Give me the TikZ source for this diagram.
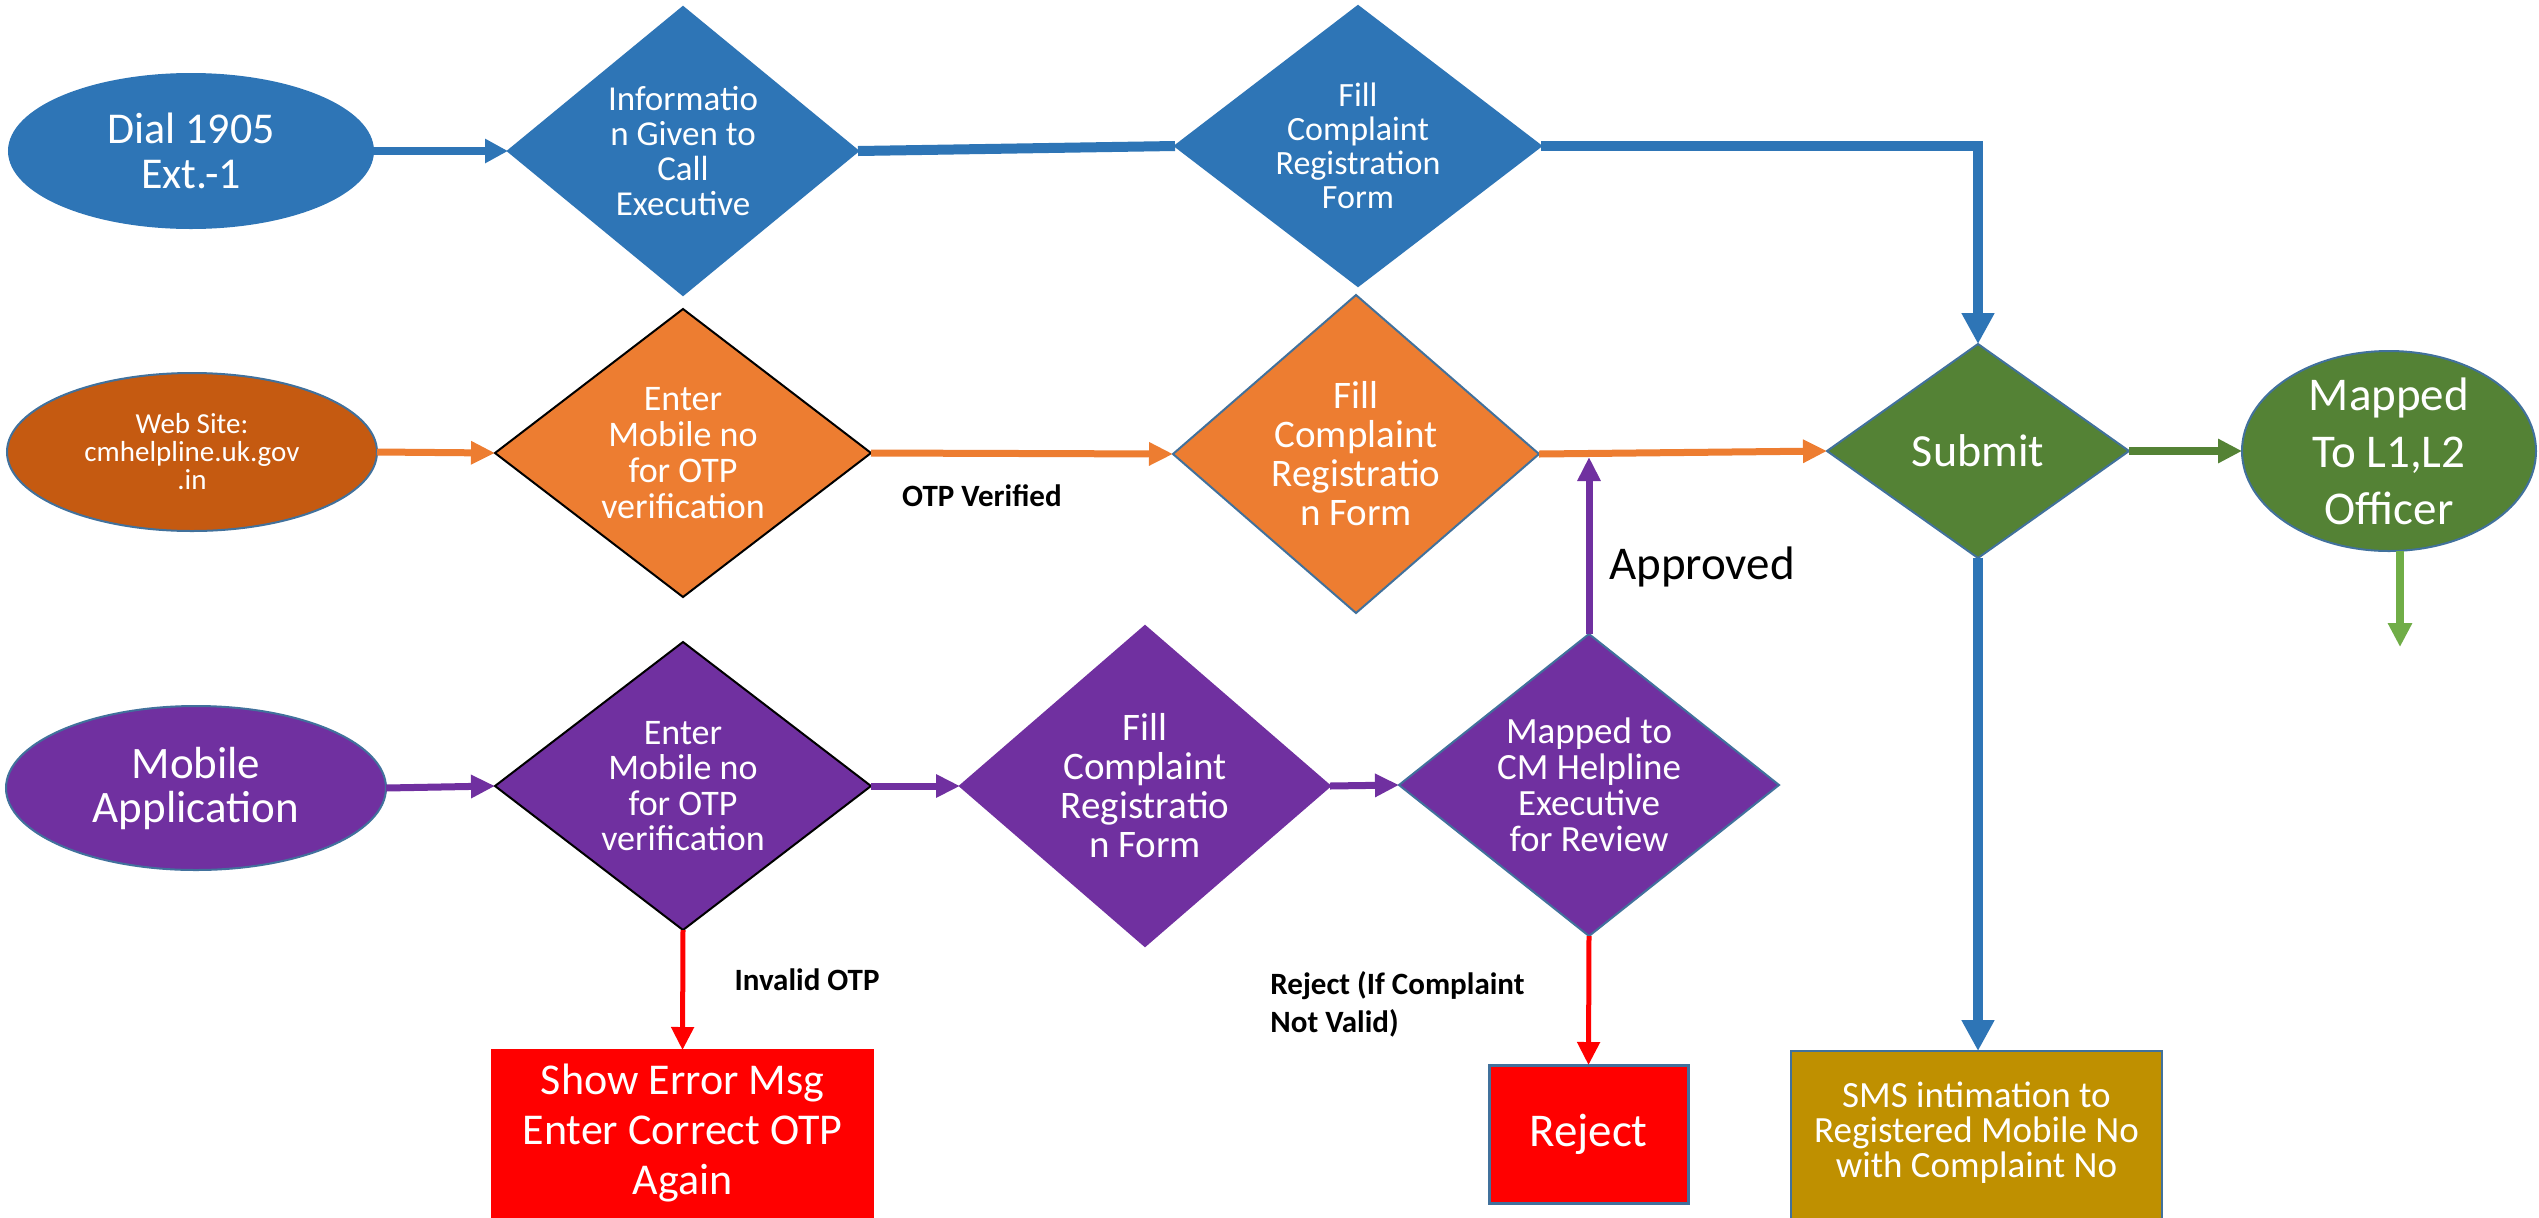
\documentclass[tikz,border=0pt]{standalone}
\usepackage{fontspec}
\setmainfont{Carlito}
\usetikzlibrary{shapes.geometric,arrows.meta}
\definecolor{cBlue}{HTML}{2E75B6}
\definecolor{cOut}{HTML}{41719C}
\definecolor{cOrange}{HTML}{ED7D31}
\definecolor{cRust}{HTML}{C55A11}
\definecolor{cPurple}{HTML}{7030A0}
\definecolor{cGreen}{HTML}{548235}
\definecolor{cLGreen}{HTML}{70AD47}
\definecolor{cRed}{HTML}{FF0000}
\definecolor{cGold}{HTML}{BF9000}
\newcommand{\myfs}[2]{\fontsize{#1}{#2}\selectfont}
\begin{document}
\begin{tikzpicture}[x=0.5pt,y=-0.5pt,
  shp/.style={inner sep=0pt,outer sep=0pt,line width=1pt,draw=cOut},
  dia/.style={shp,diamond},
  ell/.style={shp,ellipse},
  boxr/.style={shp,rectangle},
  wt/.style={text=white,align=center,inner sep=0pt},
  lbl/.style={text=black,inner sep=0pt,font=\bfseries\myfs{15.5}{19}},
  ablue/.style={draw=cBlue,line width=5pt,-{Triangle[length=15.5pt,width=15.5pt]}},
  abluesm/.style={draw=cBlue,line width=4pt,-{Triangle[length=11.5pt,width=11.5pt]}},
  bline/.style={draw=cBlue,line width=5pt},
  aorange/.style={draw=cOrange,line width=3.5pt,-{Triangle[length=12pt,width=11pt]}},
  apurple/.style={draw=cPurple,line width=3.5pt,-{Triangle[length=12pt,width=11pt]}},
  agreen/.style={draw=cGreen,line width=4pt,-{Triangle[length=12pt,width=11.5pt]}},
  alg/.style={draw=cLGreen,line width=4pt,-{Triangle[length=12pt,width=11.5pt]}},
  ared/.style={draw=cRed,line width=2.5pt,-{Triangle[length=11.5pt,width=11pt]}}
]
\useasboundingbox (0,0) rectangle (2539,1217);
\clip (0,0) rectangle (2539,1217);
\fill[white] (0,0) rectangle (2539,1217);

% row 1
\node[ell,fill=cBlue,draw=cBlue,minimum width=182pt,minimum height=77pt,
  label={[wt,font=\myfs{22}{22.5}]center:{Dial 1905\\Ext.-1}}] (dial) at (191,151) {};
\node[dia,fill=cBlue,draw=cBlue,minimum width=175pt,minimum height=144pt,
  label={[wt,font=\myfs{17.5}{17.5}]center:{Informatio\\n Given to\\Call\\Executive}}] (info) at (683,151) {};
\node[dia,fill=cBlue,draw=cBlue,minimum width=183pt,minimum height=140pt,
  label={[wt,font=\myfs{17}{17}]center:{Fill\\Complaint\\Registration\\Form}}] (fillB) at (1358,146) {};

% row 2
\node[ell,fill=cRust,minimum width=185pt,minimum height=79pt,
  label={[wt,font=\myfs{14.5}{14}]center:{Web Site:\\cmhelpline.uk.gov\\.in}}] (web) at (192,452) {};
\node[dia,fill=cOrange,draw=black,minimum width=188pt,minimum height=144pt,
  label={[wt,font=\myfs{18}{18}]center:{Enter\\Mobile no\\for OTP\\verification}}] (enterO) at (683,453) {};
\node[dia,fill=cOrange,minimum width=183pt,minimum height=159pt,
  label={[wt,font=\myfs{19.5}{19.5}]center:{Fill\\Complaint\\Registratio\\n Form}}] (fillO) at (1356,454) {};
\node[dia,fill=cGreen,minimum width=151pt,minimum height=107pt,
  label={[wt,font=\myfs{23}{23}]center:{Submit}}] (submit) at (1978,451) {};
\node[ell,fill=cGreen,minimum width=147pt,minimum height=100pt,
  label={[wt,font=\myfs{23.5}{28.5}]center:{Mapped\\To L1,L2\\Officer}}] (mapped) at (2389,451) {};

% row 3
\node[ell,fill=cPurple,minimum width=190pt,minimum height=82pt,
  label={[wt,font=\myfs{22.5}{22}]center:{Mobile\\Application}}] (mobile) at (196,788) {};
\node[dia,fill=cPurple,draw=black,minimum width=188pt,minimum height=144pt,
  label={[wt,font=\myfs{18}{17.75}]center:{Enter\\Mobile no\\for OTP\\verification}}] (enterP) at (683,786) {};
\node[dia,fill=cPurple,draw=cPurple,minimum width=185pt,minimum height=160pt,
  label={[wt,font=\myfs{19.5}{19.5}]center:{Fill\\Complaint\\Registratio\\n Form}}] (fillP) at (1145,786) {};
\node[dia,fill=cPurple,minimum width=190pt,minimum height=151pt,
  label={[wt,font=\myfs{18.5}{18}]center:{Mapped to\\CM Helpline\\Executive\\for Review}}] (mapP) at (1589,785) {};

% bottom boxes
\node[boxr,fill=cRed,draw=cRed,minimum width=190.5pt,minimum height=90pt,
  label={[wt,font=\myfs{22}{25},yshift=3.5pt]center:{Show Error Msg\\Enter Correct OTP\\Again}}] (err) at (682.5,1140) {};
\node[boxr,fill=cRed,line width=1.5pt,minimum width=99.5pt,minimum height=69pt,
  label={[wt,font=\myfs{23.5}{23.5}]center:{Reject}}] (rej) at (1588.5,1134) {};
\node[boxr,fill=cGold,minimum width=185.5pt,minimum height=89.5pt,
  label={[wt,font=\myfs{18.5}{17.5},yshift=3.75pt]center:{SMS intimation to\\Registered Mobile No\\with Complaint No}}] (sms) at (1976.5,1140.5) {};

% labels
\node[lbl] (otpv) at (982,496) {OTP Verified};
\node[lbl] (inv) at (807,980) {Invalid OTP};
\node[lbl,align=left,anchor=west] (rejl) at (1270,1004) {Reject (If Complaint\\Not Valid)};
\node[text=black,inner sep=0pt,font=\myfs{23.5}{23.5}] (appr) at (1702,567) {Approved};

% connectors
\draw[abluesm] (dial.east) -- (info.west);
\draw[bline] (info.east) -- (fillB.west);
\draw[ablue] (fillB.east) -| (submit.north);
\draw[aorange] (web.east) -- (enterO.west);
\draw[aorange] (enterO.east) -- (fillO.west);
\draw[aorange] (fillO.east) -- (submit.west);
\draw[agreen] (submit.east) -- (mapped.west);
\coordinate (mapEnd) at (2400,647);
\draw[alg] (mapped.south -| mapEnd) -- (mapEnd);
\draw[ablue] (submit.south) -- (submit.south |- sms.north);
\draw[apurple] (mobile.east) -- (enterP.west);
\draw[apurple] (enterP.east) -- (fillP.west);
\draw[apurple] (fillP.east) -- (mapP.west);
\coordinate (apTip) at (1589,457);
\draw[apurple] (mapP.north) -- (apTip);
\draw[ared] (enterP.south) -- (err.north);
\draw[ared] (mapP.south) -- (rej.north);
\end{tikzpicture}
\end{document}
